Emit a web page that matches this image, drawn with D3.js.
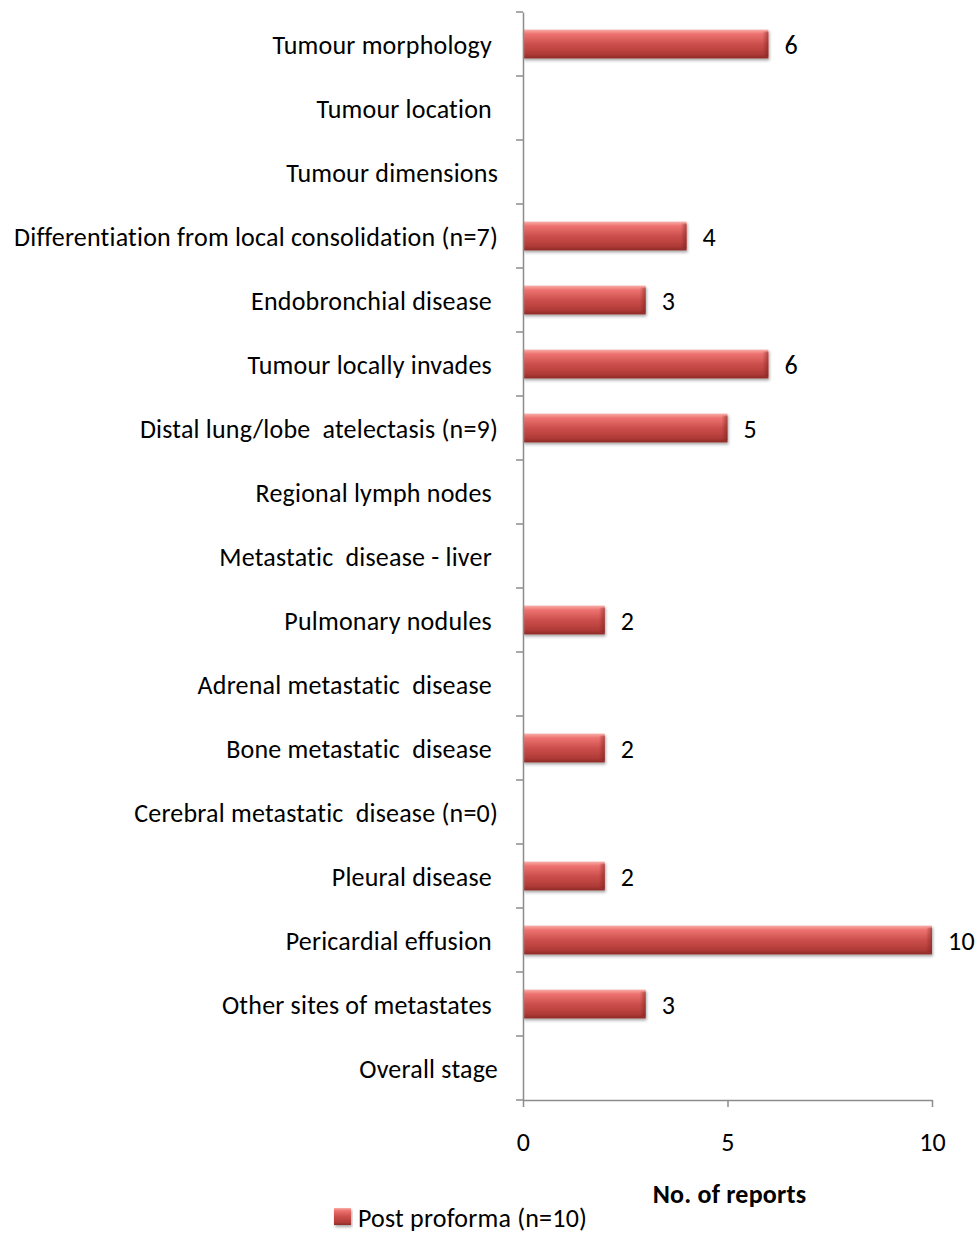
<!DOCTYPE html>
<html>
<head>
<meta charset="utf-8">
<script src="https://cdn.jsdelivr.net/npm/d3@7"></script>
<style>
  html, body { margin: 0; padding: 0; background: #fff; }
  svg { display: block; }
  svg text { font-family: Carlito, Calibri, "Open Sans", "Liberation Sans", sans-serif; white-space: pre; letter-spacing: 0.2px; }
</style>
</head>
<body>
<svg id="chart" width="979" height="1235"></svg>
<script>
// Report items and how many post-proforma reports included each
const categories = [
  "Tumour morphology ",
  "Tumour location ",
  "Tumour dimensions",
  "Differentiation from local consolidation (n=7)",
  "Endobronchial disease ",
  "Tumour locally invades ",
  "Distal lung/lobe  atelectasis (n=9)",
  "Regional lymph nodes ",
  "Metastatic  disease - liver ",
  "Pulmonary nodules ",
  "Adrenal metastatic  disease ",
  "Bone metastatic  disease ",
  "Cerebral metastatic  disease (n=0)",
  "Pleural disease ",
  "Pericardial effusion ",
  "Other sites of metastates ",
  "Overall stage"
];
const postProforma = [6, 0, 0, 4, 3, 6, 5, 0, 0, 2, 0, 2, 0, 2, 10, 3, 0];
const xTicks = [0, 5, 10];
const seriesName = "Post proforma (n=10)";
const axisTitle = "No. of reports";

const FONT = 26;
const svg = d3.select("#chart");
const plotLeft = 523, plotRight = 932, plotTop = 12, plotBottom = 1100;

const x = d3.scaleLinear().domain([0, 10]).range([plotLeft, plotRight]);
const y = d3.scaleBand().domain(categories).range([plotTop, plotBottom]).paddingInner(0.55).paddingOuter(0.275);

// Bar shading
const defs = svg.append("defs");
const grad = defs.append("linearGradient").attr("id", "barGrad")
  .attr("x1", 0).attr("y1", 0).attr("x2", 0).attr("y2", 1);
grad.append("stop").attr("offset", "0%").attr("stop-color", "#f8aeab");
grad.append("stop").attr("offset", "15%").attr("stop-color", "#ee7370");
grad.append("stop").attr("offset", "50%").attr("stop-color", "#cc4f4c");
grad.append("stop").attr("offset", "85%").attr("stop-color", "#b03b38");
grad.append("stop").attr("offset", "100%").attr("stop-color", "#8c2a28");

const endGrad = defs.append("linearGradient").attr("id", "endGrad")
  .attr("x1", 0).attr("y1", 0).attr("x2", 1).attr("y2", 0);
endGrad.append("stop").attr("offset", "0%").attr("stop-color", "#7a1f1d").attr("stop-opacity", 0);
endGrad.append("stop").attr("offset", "100%").attr("stop-color", "#7a1f1d").attr("stop-opacity", 0.55);

const shadow = defs.append("filter").attr("id", "shadow")
  .attr("x", "-5%").attr("y", "-30%").attr("width", "115%").attr("height", "180%");
shadow.append("feDropShadow").attr("dx", 1).attr("dy", 2).attr("stdDeviation", 1.6)
  .attr("flood-color", "#000").attr("flood-opacity", 0.35);

// Bars
const data = categories.map((c, i) => ({ c, v: postProforma[i] }));
const bars = svg.append("g").selectAll("g").data(data.filter(d => d.v > 0)).join("g");
bars.append("rect")
  .attr("x", x(0)).attr("y", d => y(d.c))
  .attr("width", d => x(d.v) - x(0)).attr("height", y.bandwidth())
  .attr("fill", "url(#barGrad)").attr("filter", "url(#shadow)");
bars.append("rect")
  .attr("x", d => x(d.v) - 6).attr("y", d => y(d.c) + 2)
  .attr("width", 6).attr("height", y.bandwidth() - 4)
  .attr("fill", "url(#endGrad)");

// Value labels
bars.append("text")
  .attr("x", d => x(d.v) + 16).attr("y", d => y(d.c) + y.bandwidth() / 2)
  .attr("dy", "0.4em").attr("font-size", FONT).attr("fill", "#000")
  .text(d => d.v);

// Category axis
const yAxis = d3.axisLeft(y).tickSize(0).tickPadding(25);
const yg = svg.append("g").attr("transform", `translate(${plotLeft},0)`).call(yAxis)
  .attr("font-family", null).attr("font-size", null);
yg.select(".domain").attr("stroke", "#8c8c8c").attr("stroke-width", 1.5);
yg.selectAll("text").attr("font-size", FONT).attr("fill", "#000").attr("dy", "0.4em");
// boundary ticks between categories
const bounds = d3.range(categories.length + 1).map(i => plotTop + i * y.step());
svg.append("g").selectAll("line").data(bounds).join("line")
  .attr("x1", plotLeft - 7).attr("x2", plotLeft).attr("y1", d => d).attr("y2", d => d)
  .attr("stroke", "#8c8c8c").attr("stroke-width", 1.5);

// Value axis
const xAxis = d3.axisBottom(x).tickValues(xTicks).tickSize(7).tickPadding(26).tickSizeOuter(0);
const xg = svg.append("g").attr("transform", `translate(0,${plotBottom})`).call(xAxis)
  .attr("font-family", null).attr("font-size", null);
xg.select(".domain").attr("stroke", "#8c8c8c").attr("stroke-width", 1.5);
xg.selectAll(".tick line").attr("stroke", "#8c8c8c").attr("stroke-width", 1.5);
xg.selectAll("text").attr("font-size", FONT).attr("fill", "#000");

// Axis title
svg.append("text").attr("x", x(5) + 2).attr("y", 1203).attr("text-anchor", "middle")
  .attr("font-size", FONT).attr("font-weight", "bold").attr("fill", "#000").text(axisTitle);

// Legend
svg.append("rect").attr("x", 334).attr("y", 1208).attr("width", 17).attr("height", 17)
  .attr("fill", "url(#barGrad)").attr("filter", "url(#shadow)");
svg.append("text").attr("x", 358).attr("y", 1227).attr("font-size", FONT).attr("fill", "#000").text(seriesName);
</script>
</body>
</html>
